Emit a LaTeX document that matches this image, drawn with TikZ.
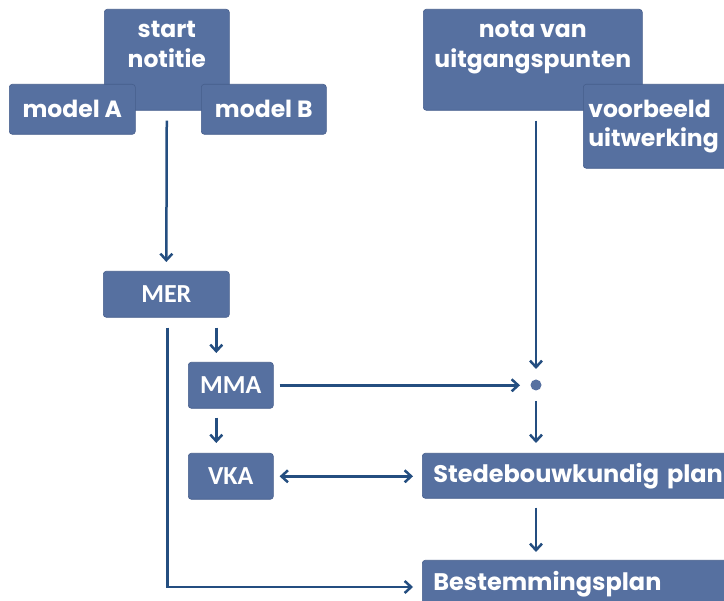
\documentclass[tikz,border=0pt]{standalone}
\usepackage{fontspec}
\setmainfont{Poppins}
\newfontfamily\calfont{Carlito}
\usetikzlibrary{arrows.meta}
\definecolor{boxblue}{RGB}{86,112,160}
\definecolor{boxedge}{RGB}{70,94,140}
\definecolor{linblue}{RGB}{36,78,128}
\tikzset{
  box/.style={draw=boxedge, line width=0.6pt, fill=boxblue, rounded corners=3pt, text=white,
    inner sep=0pt, anchor=north west, align=center, font=\fontsize{23.5}{29.5}\selectfont\bfseries},
  calbox/.style={box, font=\calfont\fontsize{26}{28}\selectfont\bfseries},
  widebox/.style={box, align=left, font=\fontsize{24}{28}\selectfont\bfseries},
  tip/.tip={Straight Barb[length=6.5pt,width=12pt,line width=2.5pt]},
  arr/.style={draw=linblue, line width=2.5pt, -tip},
}
\begin{document}
\begin{tikzpicture}[x=1pt,y=-1pt]
\clip (0,0) rectangle (724,601);
\fill[white] (0,0) rectangle (724,601);
% top left group
\node[box, minimum width=125pt, minimum height=101pt, text depth=31pt] (sn) at (104,9) {start\\notitie};
\node[box, minimum width=126pt, minimum height=50pt] (ma) at (9,84) {model A};
\node[box, minimum width=125pt, minimum height=50pt] (mb) at (201,84) {model B};
% top right group
\node[box, minimum width=219pt, minimum height=101pt, text depth=31pt] (nota) at (423,9) {nota van\\uitgangspunten};
\node[box, minimum width=160pt, minimum height=84pt, text width=150pt, align=left] (vb) at (583,84) {voorbeeld\\uitwerking};
% middle column
\node[calbox, minimum width=126pt, minimum height=46pt] (mer) at (103,271) {MER};
\node[calbox, minimum width=85pt, minimum height=46pt] (mma) at (188,362) {MMA};
\node[calbox, minimum width=85pt, minimum height=46pt] (vka) at (188,453) {VKA};
% right column
\node[widebox, minimum width=340pt, minimum height=45pt, text width=318pt] (sted) at (422,453) {Stedebouwkundig plan};
\node[widebox, minimum width=340pt, minimum height=56pt, text width=318pt, text depth=14pt] (best) at (422,560) {Bestemmingsplan};
\coordinate (dot) at (536,385);
\fill[boxblue] (dot) circle (5.5pt);
% connectors
\draw[arr, shorten <=10pt, shorten >=9pt] (sn.south) -- (mer.north);
\draw[arr, shorten <=10pt, shorten >=9pt] ([xshift=-14.5pt]mma.north |- mer.south) -- ([xshift=-14.5pt]mma.north);
\draw[arr, shorten <=9pt, shorten >=10pt] ([xshift=-14.5pt]vka.north |- mma.south) -- ([xshift=-14.5pt]vka.north);
\draw[arr, shorten <=10pt, shorten >=16pt] (dot |- nota.south) -- (dot);
\draw[arr, shorten <=6pt, shorten >=16pt] (mma.east) -- (mma.east -| dot);
\draw[arr, shorten <=16pt, shorten >=10pt] (dot) -- (dot |- sted.north);
\draw[arr, shorten <=9pt, shorten >=8pt] (dot |- sted.south) -- (dot |- best.north);
\draw[arr, tip-tip, shorten <=6pt, shorten >=9pt] (vka.east) -- (vka.east -| sted.west);
\coordinate (corner) at ([xshift=1pt]mer.south |- 0,587);
\draw[arr, shorten <=10pt] ([xshift=1pt]mer.south) -- (corner) -- ([xshift=-9pt]corner -| best.west);
\end{tikzpicture}
\end{document}
